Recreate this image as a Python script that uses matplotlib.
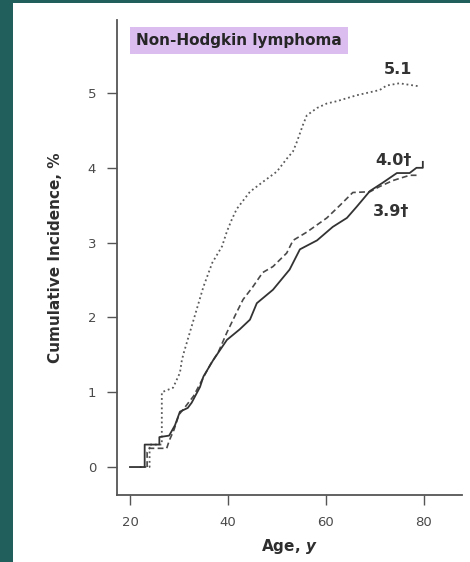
import matplotlib.pyplot as plt
from matplotlib.patches import Rectangle

# cumulative incidence curves (age in years, %)
dotted_age = [22, 24, 24, 26.5, 26.5, 28.8, 30.2, 30.6, 31, 33, 35, 36.8, 38.8, 39.8,
              40.8, 41.8, 44.5, 47.1, 50, 52, 53.3, 54.1, 55.3, 56.1, 58.2, 60.2,
              62.2, 66.3, 71, 72.4, 75, 79]
dotted_val = [0, 0, 0.3, 0.3, 1.0, 1.06, 1.26, 1.43, 1.53, 1.97, 2.41, 2.73, 2.95, 3.15,
              3.31, 3.45, 3.68, 3.81, 3.95, 4.12, 4.22, 4.35, 4.57, 4.7, 4.8, 4.86,
              4.89, 4.97, 5.04, 5.1, 5.13, 5.09]

solid_age = [20, 23, 23, 26, 26, 28, 29.2, 30.2, 31.8, 32.6, 34.3, 35, 37, 39.8, 42.4,
             44.5, 45.9, 49.2, 52.6, 54.7, 58.2, 61.4, 64.3, 66.3, 69, 71.6, 74.5,
             77.1, 78.5, 79.8, 79.8]
solid_val = [0, 0, 0.3, 0.3, 0.4, 0.42, 0.56, 0.74, 0.79, 0.86, 1.07, 1.21, 1.43, 1.70,
             1.84, 1.97, 2.19, 2.37, 2.64, 2.91, 3.03, 3.21, 3.33, 3.48, 3.69, 3.80,
             3.93, 3.93, 4.0, 4.0, 4.08]

dashed_age = [23.5, 23.5, 24, 27.5, 28, 29, 30, 31, 33, 35, 36.5, 38, 39.8, 41.8, 43.1,
              45.1, 47.1, 49.2, 52, 53.3, 56.1, 60.2, 62.9, 65.5, 69, 71, 73.7, 77.1, 79]
dashed_val = [0, 0.2, 0.25, 0.25, 0.35, 0.5, 0.7, 0.78, 0.95, 1.2, 1.38, 1.53, 1.8, 2.07,
              2.24, 2.41, 2.6, 2.68, 2.86, 3.03, 3.14, 3.33, 3.5, 3.67, 3.68, 3.75,
              3.83, 3.9, 3.9]

end_labels = ['5.1', '4.0\u2020', '3.9\u2020']
end_label_pos = [(74.8, 5.31), (73.8, 4.1), (73.4, 3.42)]

fig = plt.figure(figsize=(4.7, 5.62), dpi=100)
fig.patch.set_facecolor('#215f5d')
fig.patches.append(Rectangle((13 / 470, 0), 1, (562 - 3) / 562,
                             transform=fig.transFigure, facecolor='white',
                             edgecolor='none', zorder=-10))

ax = fig.add_axes([117 / 470, 67 / 562, 345 / 470, 475 / 562])
ax.set_facecolor('none')

ax.plot(dotted_age, dotted_val, color='#5a5a5a', lw=1.3, linestyle=(0, (1, 1.6)))
ax.plot(dashed_age, dashed_val, color='#4a4a4a', lw=1.2, linestyle=(0, (3.5, 2)))
ax.plot(solid_age, solid_val, color='#333333', lw=1.3)

ax.set_xlim(17.35, 87.8)
ax.set_ylim(-0.374, 5.976)
ax.set_xticks([20, 40, 60, 80])
ax.set_yticks([0, 1, 2, 3, 4, 5])

for s in ['top', 'right']:
    ax.spines[s].set_visible(False)
for s in ['left', 'bottom']:
    ax.spines[s].set_color('#555555')
    ax.spines[s].set_linewidth(1.3)
ax.tick_params(direction='out', length=7, width=1, color='#555555',
               labelsize=9.5, labelcolor='#4a4a4a', pad=8)

ax.set_ylabel('Cumulative Incidence, %', fontsize=11, fontweight='bold',
              color='#2e2e2e', labelpad=18)
ax.set_xlabel('Age, $\\boldsymbol{y}$', fontsize=11, fontweight='bold',
              color='#2e2e2e', labelpad=6)

ax.text(21.3, 5.7, 'Non-Hodgkin lymphoma', fontsize=11, fontweight='bold',
        color='#262626', va='center', ha='left',
        bbox=dict(boxstyle='square,pad=0.4', facecolor='#dbbdf0', edgecolor='none'))

for lab, (x, y) in zip(end_labels, end_label_pos):
    ax.text(x, y, lab, fontsize=11.5, fontweight='bold', color='#333333',
            ha='center', va='center')

fig.savefig('out.png', dpi=100, facecolor=fig.get_facecolor())
